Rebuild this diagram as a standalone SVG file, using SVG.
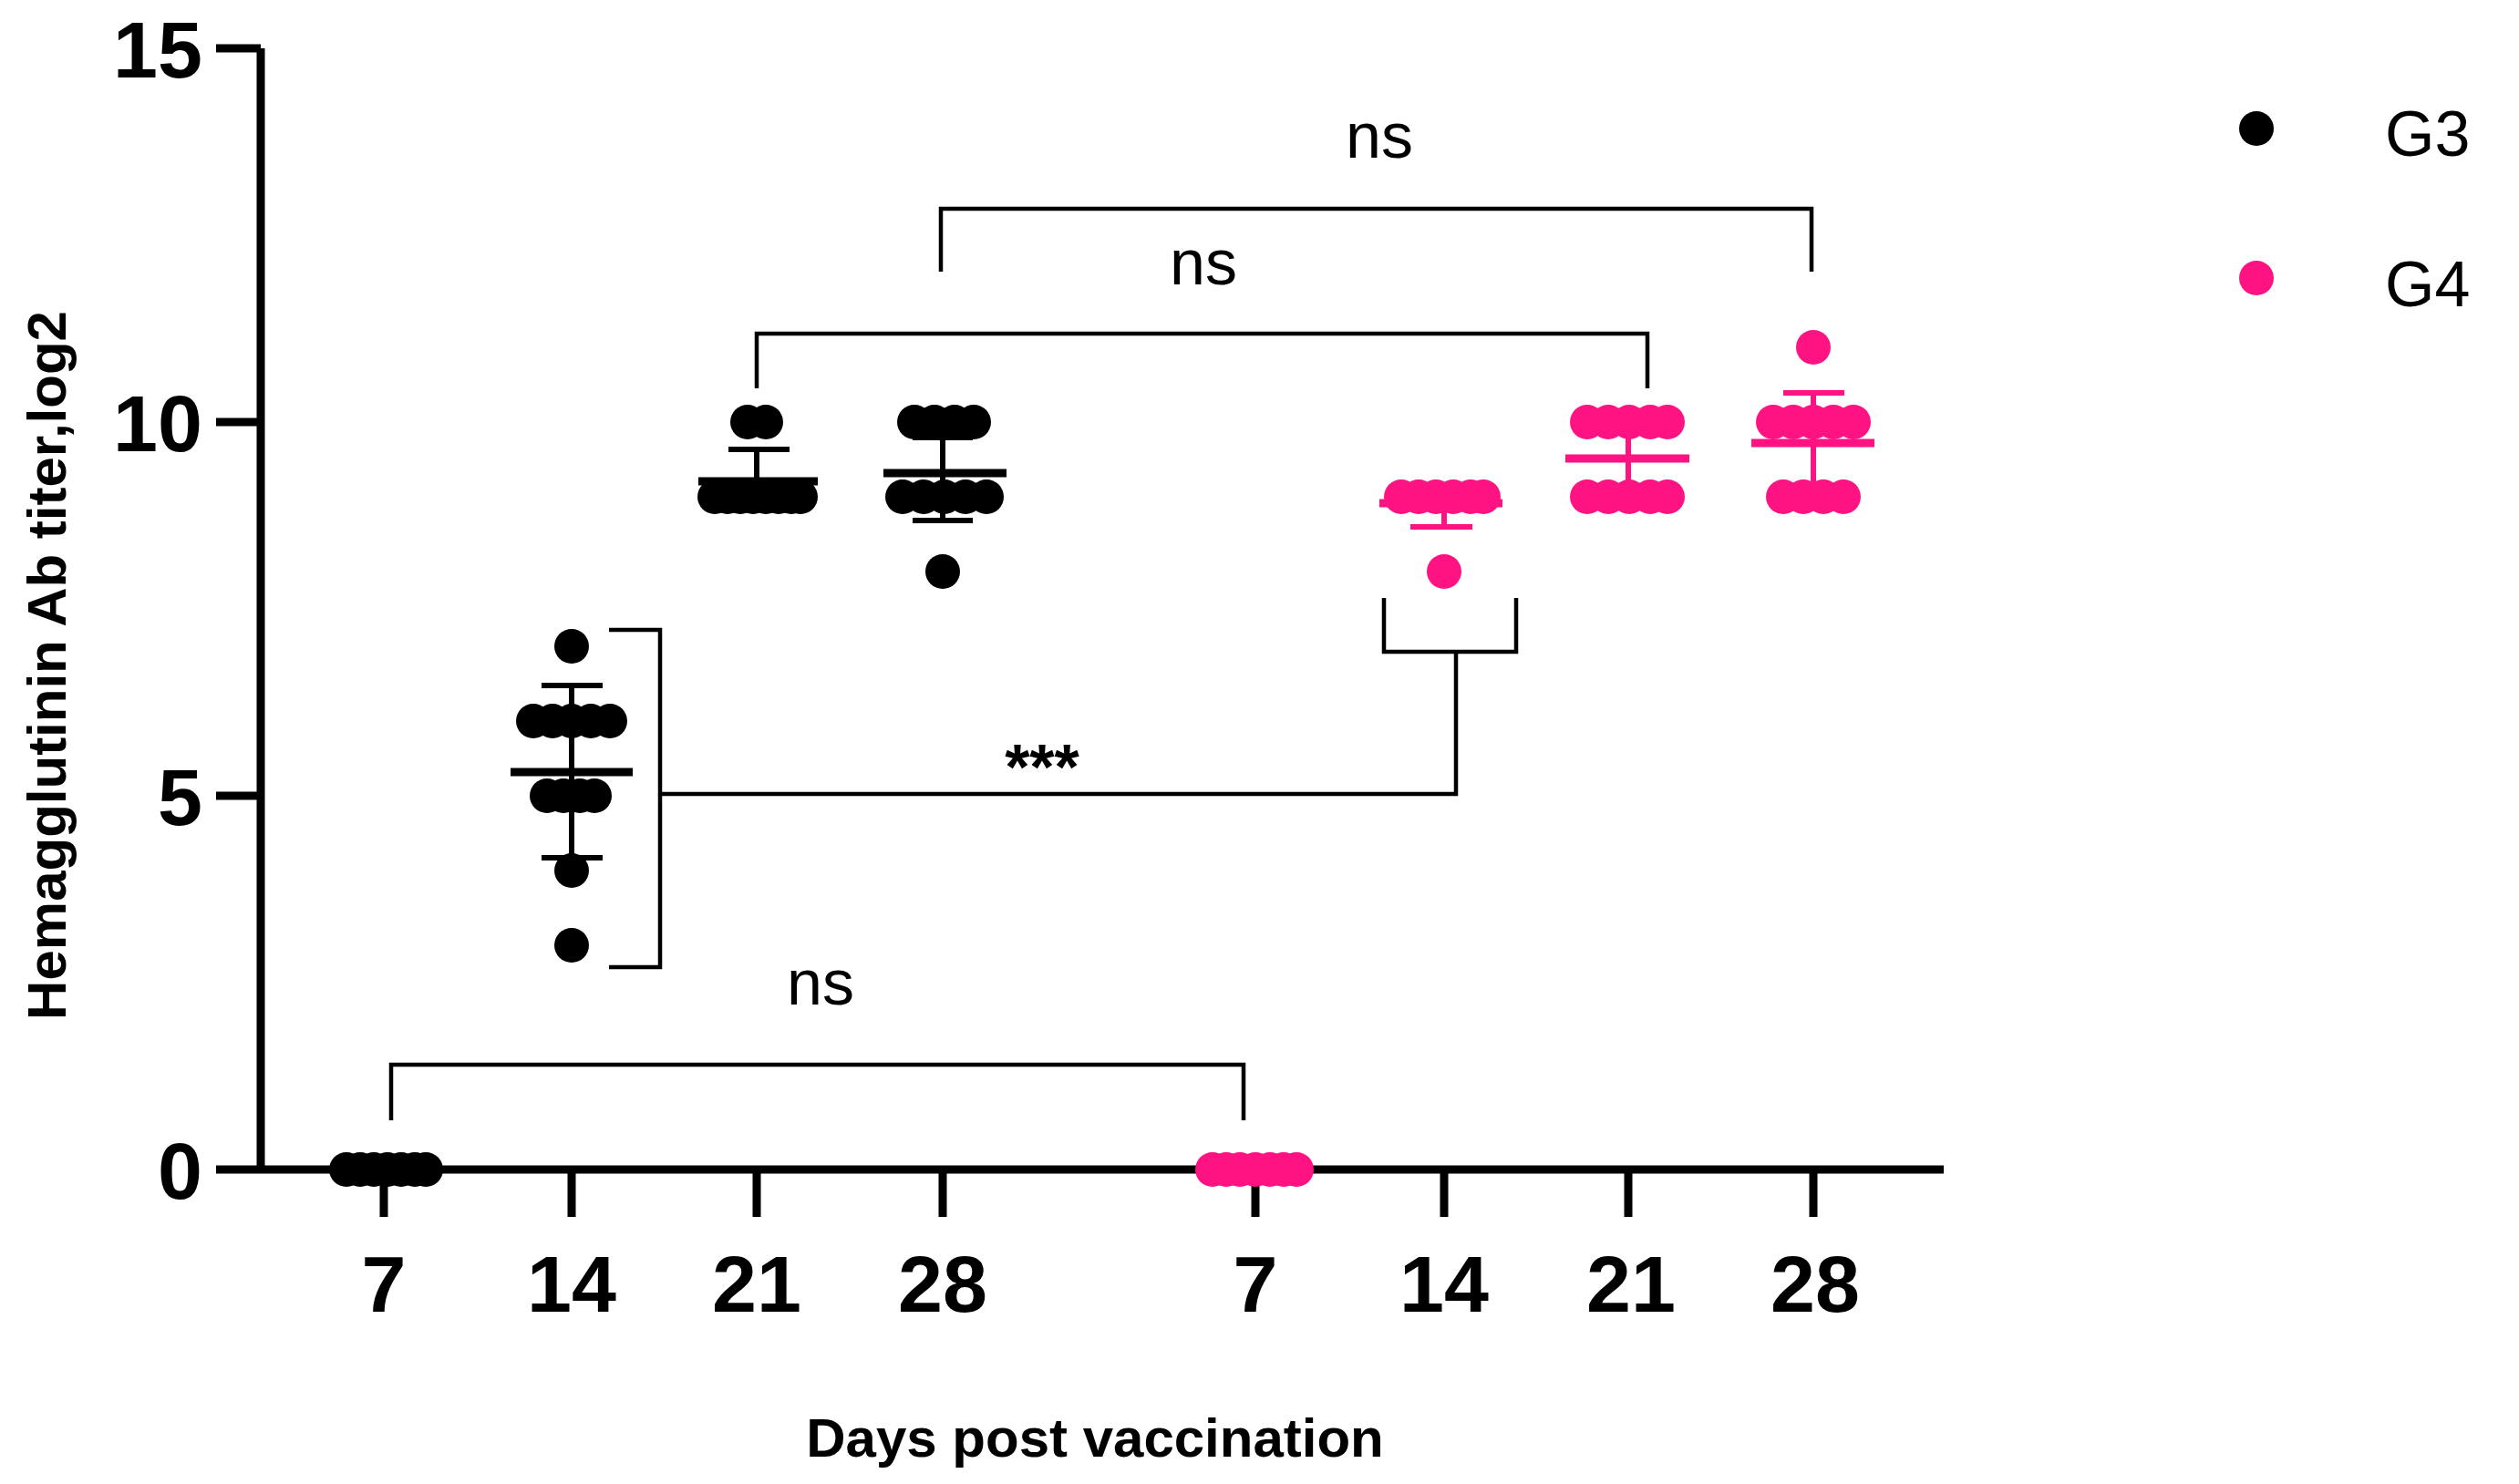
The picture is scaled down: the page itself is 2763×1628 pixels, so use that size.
<svg xmlns="http://www.w3.org/2000/svg" width="2763" height="1628" viewBox="0 0 2763 1628">
<style>
.ax{stroke:#000;stroke-width:9;fill:none}
.br{stroke:#000;stroke-width:4.5;fill:none}
.k{fill:#000}.p{fill:#ff1383}
.ek{stroke:#000;stroke-width:6;fill:none}
.ep{stroke:#ff1383;stroke-width:6;fill:none}
.mk{stroke:#000;stroke-width:9}
.mp{stroke:#ff1383;stroke-width:9}
.tl{font-family:"Liberation Sans",Arial,sans-serif;font-weight:bold;font-size:88px;fill:#000}
.lb{font-family:"Liberation Sans",Arial,sans-serif;font-weight:bold;font-size:60px;fill:#000}
.ns{font-family:"Liberation Sans",Arial,sans-serif;font-size:70px;fill:#000}
</style>
<rect width="2763" height="1628" fill="#fff"/>
<g id="axes">
<path class="ax" d="M286 53V1283M237 53H286M237 463H286M237 873H286M237 1283H2132"/>
<path class="ax" d="M421 1283V1335M627 1283V1335M830 1283V1335M1034 1283V1335M1377 1283V1335M1584 1283V1335M1786 1283V1335M1989 1283V1335"/>
<g class="tl" text-anchor="end">
<text x="222" y="85">15</text><text x="222" y="495">10</text><text x="222" y="905">5</text><text x="222" y="1315">0</text>
</g>
<g class="tl" text-anchor="middle">
<text x="421" y="1439">7</text><text x="627" y="1439">14</text><text x="830" y="1439">21</text><text x="1034" y="1439">28</text>
<text x="1377" y="1439">7</text><text x="1584" y="1439">14</text><text x="1789" y="1439">21</text><text x="1991" y="1439">28</text>
</g>
<text class="lb" x="1201" y="1598" text-anchor="middle">Days post vaccination</text>
<text class="lb" transform="translate(72,730) rotate(-90)" text-anchor="middle">Hemagglutinin Ab titer,log2</text>
</g>
<g id="G3">
<g class="k">
<circle cx="380" cy="1283" r="19"/><circle cx="395" cy="1283" r="19"/><circle cx="410" cy="1283" r="19"/><circle cx="425" cy="1283" r="19"/><circle cx="440" cy="1283" r="19"/><circle cx="455" cy="1283" r="19"/><circle cx="467" cy="1283" r="19"/>
<circle cx="627" cy="709" r="19"/>
<circle cx="585" cy="791" r="19"/><circle cx="606" cy="791" r="19"/><circle cx="627" cy="791" r="19"/><circle cx="648" cy="791" r="19"/><circle cx="669" cy="791" r="19"/>
<circle cx="600" cy="873" r="19"/><circle cx="618" cy="873" r="19"/><circle cx="636" cy="873" r="19"/><circle cx="652" cy="873" r="19"/>
<circle cx="627" cy="955" r="19"/><circle cx="627" cy="1037" r="19"/>
<circle cx="820" cy="463" r="19"/><circle cx="840" cy="463" r="19"/>
<circle cx="784" cy="545" r="19"/><circle cx="798" cy="545" r="19"/><circle cx="812" cy="545" r="19"/><circle cx="826" cy="545" r="19"/><circle cx="840" cy="545" r="19"/><circle cx="854" cy="545" r="19"/><circle cx="868" cy="545" r="19"/><circle cx="878" cy="545" r="19"/>
<circle cx="1003" cy="463" r="19"/><circle cx="1025" cy="463" r="19"/><circle cx="1047" cy="463" r="19"/><circle cx="1068" cy="463" r="19"/>
<circle cx="990" cy="545" r="19"/><circle cx="1013" cy="545" r="19"/><circle cx="1036" cy="545" r="19"/><circle cx="1059" cy="545" r="19"/><circle cx="1082" cy="545" r="19"/>
<circle cx="1034" cy="627" r="19"/>
</g>
<path class="ek" d="M627 752V941M594 752H661M594 941H661"/>
<path class="mk" d="M560 847H694"/>
<path class="ek" d="M830 493V528M799 493H866"/>
<path class="mk" d="M766 528H897"/>
<path class="ek" d="M1034 480V571M1001 480H1067M1001 571H1067"/>
<path class="mk" d="M969 519H1104"/>
</g>
<g id="G4">
<g class="p">
<circle cx="1330" cy="1283" r="19"/><circle cx="1345" cy="1283" r="19"/><circle cx="1360" cy="1283" r="19"/><circle cx="1377" cy="1283" r="19"/><circle cx="1393" cy="1283" r="19"/><circle cx="1408" cy="1283" r="19"/><circle cx="1422" cy="1283" r="19"/>
<circle cx="1537" cy="545" r="19"/><circle cx="1556" cy="545" r="19"/><circle cx="1575" cy="545" r="19"/><circle cx="1594" cy="545" r="19"/><circle cx="1613" cy="545" r="19"/><circle cx="1627" cy="545" r="19"/>
<circle cx="1584" cy="627" r="19"/>
<circle cx="1741" cy="463" r="19"/><circle cx="1764" cy="463" r="19"/><circle cx="1787" cy="463" r="19"/><circle cx="1810" cy="463" r="19"/><circle cx="1829" cy="463" r="19"/>
<circle cx="1741" cy="545" r="19"/><circle cx="1764" cy="545" r="19"/><circle cx="1787" cy="545" r="19"/><circle cx="1810" cy="545" r="19"/><circle cx="1829" cy="545" r="19"/>
<circle cx="1989" cy="381" r="19"/>
<circle cx="1945" cy="463" r="19"/><circle cx="1967" cy="463" r="19"/><circle cx="1989" cy="463" r="19"/><circle cx="2011" cy="463" r="19"/><circle cx="2033" cy="463" r="19"/>
<circle cx="1956" cy="545" r="19"/><circle cx="1978" cy="545" r="19"/><circle cx="2000" cy="545" r="19"/><circle cx="2022" cy="545" r="19"/>
</g>
<path class="ep" d="M1584 552V578M1547 578H1615"/>
<path class="mp" d="M1513 552H1648"/>
<path class="ep" d="M1786 470V536"/>
<path class="mp" d="M1717 503H1853"/>
<path class="ep" d="M1989 431V545M1956 431H2023"/>
<path class="mp" d="M1921 486H2056"/>
</g>
<g id="connectors">
<path class="br" d="M429 1229V1168H1364V1229"/>
<path class="br" d="M668 691H724V1061H668M724 871H1597V715M1518 656V715H1663V656"/>
<path class="br" d="M830 426V366H1807V426"/>
<path class="br" d="M1032 298V229H1987V298"/>
<text class="ns" x="900" y="1102" text-anchor="middle" font-size="85">ns</text>
<text class="ns" x="1143" y="866" text-anchor="middle" font-size="108" font-weight="bold">***</text>
<text class="ns" x="1320" y="312" text-anchor="middle">ns</text>
<text class="ns" x="1513" y="173" text-anchor="middle">ns</text>
</g>
<g id="legend">
<circle cx="2475" cy="141" r="19" class="k"/>
<circle cx="2475" cy="305" r="19" class="p"/>
<text class="ns" x="2616" y="171" font-size="92">G3</text>
<text class="ns" x="2616" y="336" font-size="92">G4</text>
</g>
</svg>
